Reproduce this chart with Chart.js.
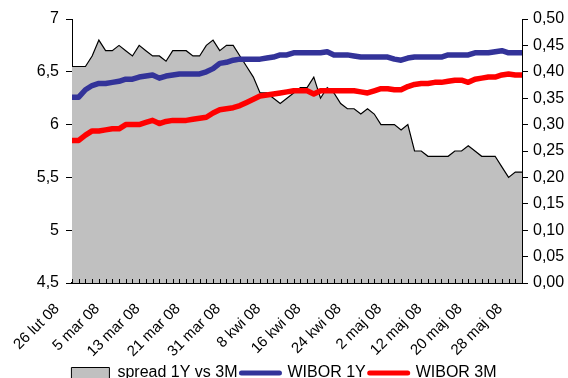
<!DOCTYPE html>
<html>
<head>
<meta charset="utf-8">
<script src="https://cdn.jsdelivr.net/npm/chart.js@4.4.1/dist/chart.umd.min.js"></script>
<style>
  html, body { margin: 0; padding: 0; background: #fff; }
  #wrap { width: 568px; height: 378px; }
</style>
</head>
<body>
<div id="wrap"><canvas id="c" width="568" height="378"></canvas></div>
<script>
// Trading days, 26 Feb - 29 May 2008
const dates = [
  '26 lut 08','27 lut 08','28 lut 08','29 lut 08',
  '3 mar 08','4 mar 08','5 mar 08','6 mar 08','7 mar 08','10 mar 08','11 mar 08','12 mar 08','13 mar 08','14 mar 08',
  '17 mar 08','18 mar 08','19 mar 08','20 mar 08','21 mar 08','24 mar 08','25 mar 08','26 mar 08','27 mar 08','28 mar 08','31 mar 08',
  '1 kwi 08','2 kwi 08','3 kwi 08','4 kwi 08','7 kwi 08','8 kwi 08','9 kwi 08','10 kwi 08','11 kwi 08','14 kwi 08','15 kwi 08',
  '16 kwi 08','17 kwi 08','18 kwi 08','21 kwi 08','22 kwi 08','23 kwi 08','24 kwi 08','25 kwi 08','28 kwi 08','29 kwi 08','30 kwi 08',
  '1 maj 08','2 maj 08','5 maj 08','6 maj 08','7 maj 08','8 maj 08','9 maj 08','12 maj 08','13 maj 08','14 maj 08','15 maj 08',
  '16 maj 08','19 maj 08','20 maj 08','21 maj 08','22 maj 08','23 maj 08','26 maj 08','27 maj 08','28 maj 08','29 maj 08'
];

// Spread WIBOR 1Y - WIBOR 3M (right axis, p.p.)
const spread = [
  0.41,0.41,0.41,0.43,0.46,0.44,0.44,0.45,0.44,0.43,
  0.45,0.44,0.43,0.43,0.42,0.44,0.44,0.44,0.43,0.43,
  0.45,0.46,0.44,0.45,0.45,0.43,0.41,0.39,0.36,0.36,
  0.35,0.34,0.35,0.36,0.37,0.37,0.39,0.35,0.37,0.36,
  0.34,0.33,0.33,0.32,0.33,0.32,0.30,0.30,0.30,0.29,
  0.30,0.25,0.25,0.24,0.24,0.24,0.24,0.25,0.25,0.26,
  0.25,0.24,0.24,0.24,0.22,0.20,0.21,0.21
];

// WIBOR 1Y (left axis, %)
const wibor1y = [
  6.26,6.26,6.33,6.37,6.39,6.39,6.40,6.41,6.43,6.43,
  6.45,6.46,6.47,6.44,6.46,6.47,6.48,6.48,6.48,6.48,
  6.50,6.53,6.58,6.59,6.61,6.62,6.62,6.62,6.62,6.63,
  6.64,6.66,6.66,6.68,6.68,6.68,6.68,6.68,6.69,6.66,
  6.66,6.66,6.65,6.64,6.64,6.64,6.64,6.64,6.62,6.61,
  6.63,6.64,6.64,6.64,6.64,6.64,6.66,6.66,6.66,6.66,
  6.68,6.68,6.68,6.69,6.70,6.68,6.68,6.68
];

// WIBOR 3M (left axis, %)
const wibor3m = [
  5.85,5.85,5.90,5.94,5.94,5.95,5.96,5.96,6.00,6.00,
  6.00,6.02,6.04,6.01,6.03,6.04,6.04,6.04,6.05,6.06,
  6.07,6.11,6.14,6.15,6.16,6.18,6.21,6.24,6.27,6.28,
  6.29,6.30,6.31,6.32,6.32,6.32,6.29,6.32,6.32,6.32,
  6.32,6.32,6.32,6.31,6.30,6.32,6.34,6.34,6.33,6.33,
  6.36,6.38,6.39,6.39,6.40,6.40,6.41,6.42,6.42,6.40,
  6.43,6.44,6.45,6.45,6.47,6.48,6.47,6.47
];

const leftTicks = [4.5, 5, 5.5, 6, 6.5, 7];
const rightTicks = [0, 0.05, 0.10, 0.15, 0.20, 0.25, 0.30, 0.35, 0.40, 0.45, 0.50];
const labelEvery = 6;

const FONT = 'Liberation Sans, Arial, Helvetica, sans-serif';

// small inward tick marks on the category axis, one per trading day
const innerTicks = {
  id: 'innerTicks',
  afterDatasetsDraw(chart) {
    const x = chart.scales.x;
    const ctx = chart.ctx;
    const bottom = chart.chartArea.bottom;
    ctx.save();
    ctx.strokeStyle = '#000';
    ctx.lineWidth = 1;
    ctx.beginPath();
    for (let i = 0; i < dates.length; i++) {
      const px = Math.round(x.getPixelForValue(i)) + 0.5;
      ctx.moveTo(px, bottom);
      ctx.lineTo(px, bottom - 4);
    }
    ctx.stroke();
    ctx.restore();
  }
};

new Chart(document.getElementById('c'), {
  type: 'line',
  data: {
    labels: dates,
    datasets: [
      {
        label: 'spread 1Y vs 3M',
        data: spread,
        yAxisID: 'yR',
        borderColor: '#000',
        borderWidth: 1.2,
        backgroundColor: '#C0C0C0',
        fill: 'origin',
        pointRadius: 0,
        tension: 0,
        order: 5
      },
      {
        label: 'WIBOR 1Y',
        data: wibor1y,
        yAxisID: 'y',
        borderColor: '#333399',
        borderWidth: 5.5,
        fill: false,
        pointRadius: 0,
        tension: 0,
        borderJoinStyle: 'round',
        order: 1
      },
      {
        label: 'WIBOR 3M',
        data: wibor3m,
        yAxisID: 'y',
        borderColor: '#FF0000',
        borderWidth: 5.5,
        fill: false,
        pointRadius: 0,
        tension: 0,
        borderJoinStyle: 'round',
        order: 0
      }
    ]
  },
  options: {
    responsive: false,
    animation: false,
    devicePixelRatio: 1,
    layout: { padding: { left: 0, right: 0, top: 19, bottom: -13 } },
    plugins: {
      tooltip: { enabled: false },
      legend: {
        position: 'bottom',
        align: 'center',
        labels: {
          usePointStyle: true,
          pointStyleWidth: 38,
          boxWidth: 38,
          boxHeight: 11,
          padding: 4,
          color: '#000',
          font: { family: FONT, size: 16 },
          generateLabels(chart) {
            return chart.data.datasets.map((ds, i) => {
              const isArea = i === 0;
              return {
                text: ds.label,
                datasetIndex: i,
                pointStyle: isArea ? 'rect' : 'line',
                fillStyle: isArea ? '#C0C0C0' : ds.borderColor,
                strokeStyle: isArea ? '#000' : ds.borderColor,
                lineWidth: isArea ? 1 : 5,
                lineCap: isArea ? 'butt' : 'round',
                fontColor: '#000',
                hidden: false
              };
            });
          }
        }
      }
    },
    scales: {
      x: {
        type: 'category',
        offset: false,
        grid: { display: false, drawTicks: false },
        border: { display: true, color: '#000', width: 2 },
        ticks: {
          autoSkip: false,
          maxRotation: 45,
          minRotation: 45,
          padding: 17,
          labelOffset: -15,
          color: '#000',
          font: { family: FONT, size: 15 },
          callback(value, index) { return index % labelEvery === 0 ? dates[index] : ''; }
        },
        afterFit(scale) { scale.height = 78; }
      },
      y: {
        position: 'left',
        min: 4.5,
        max: 7,
        afterBuildTicks(scale) { scale.ticks = leftTicks.map(v => ({ value: v })); },
        grid: { drawOnChartArea: false, drawTicks: true, tickLength: 6, tickColor: '#000', tickWidth: 1 },
        border: { display: true, color: '#000', width: 1 },
        ticks: {
          padding: 7,
          color: '#000',
          font: { family: FONT, size: 16 },
          callback(v) { return String(v).replace('.', ','); }
        },
        afterFit(scale) { scale.width = 72; }
      },
      yR: {
        position: 'right',
        min: 0,
        max: 0.5,
        afterBuildTicks(scale) { scale.ticks = rightTicks.map(v => ({ value: v })); },
        grid: { drawOnChartArea: false, drawTicks: true, tickLength: 6, tickColor: '#000', tickWidth: 1 },
        border: { display: true, color: '#000', width: 1 },
        ticks: {
          padding: 5,
          color: '#000',
          font: { family: FONT, size: 16 },
          callback(v) { return v.toFixed(2).replace('.', ','); }
        },
        afterFit(scale) { scale.width = 46; }
      }
    }
  },
  plugins: [innerTicks]
});
</script>
</body>
</html>
